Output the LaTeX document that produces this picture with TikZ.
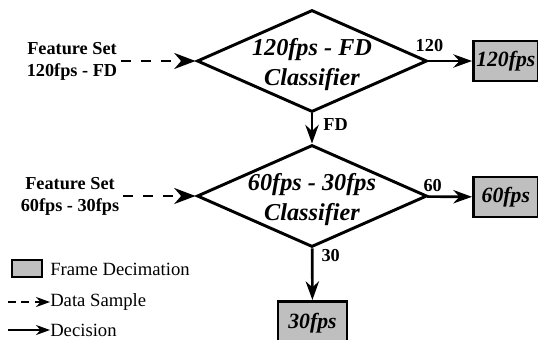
\documentclass[tikz,border=0pt]{standalone}
\usepackage{fontspec}
\setmainfont{Liberation Serif}
\usetikzlibrary{shapes.geometric,arrows.meta,positioning}
\tikzset{
  every node/.style={
    font=\fontsize{13.7}{16.5}\selectfont\bfseries
  },
  classifier/.style={
    shape=diamond,
    draw=black,
    line width=2.2pt,
    aspect=2.25,
    inner sep=-1.5pt,
    minimum width=172.5pt,
    minimum height=76.5pt,
    align=center,
    text height=36pt,
    text depth=0pt,
    font=\fontsize{18.2}{22.5}\selectfont\bfseries\itshape
  },
  decimation/.style={
    shape=rectangle,
    draw=black,
    line width=2pt,
    fill=gray!50,
    minimum width=48.75pt,
    minimum height=30pt,
    inner sep=1pt,
    font=\fontsize{16.3}{19}\selectfont\bfseries\itshape
  },
  feature/.style={
    align=center,
    inner sep=3pt
  },
  datasample/.style={
    line width=2.2pt,
    dash pattern=on 7.5pt off 7.5pt,
    -{Stealth[length=16pt,width=12pt]}
  },
  decision/.style={
    line width=2pt,
    -{Stealth[length=14pt,width=10pt]}
  },
  edgelabel/.style={
    inner sep=0pt
  },
  legendtext/.style={
    font=\fontsize{14}{16}\selectfont,
    inner sep=0pt
  }
}

\begin{document}
\begin{tikzpicture}[x=0.75pt,y=-0.75pt]
  \useasboundingbox (0,0) rectangle (538,339);
  \clip (0,0) rectangle (538,339);
  % classifiers
  \node [classifier] (clf120) at (312,61) {120fps - FD\\Classifier};
  \node [classifier] (clf60) at (312,196) {60fps - 30fps\\Classifier};
  % feature sets
  \node [feature] (feat120) at (72,61) {Feature Set\\120fps - FD};
  \node [feature] (feat60) at (70,196) {Feature Set\\60fps - 30fps};
  % frame decimation
  \node [decimation, anchor=west] (fps120) at (472,61) {120fps};
  \node [decimation, anchor=west] (fps60) at (472,197) {60fps};
  \node [decimation, anchor=north, minimum width=51.75pt, minimum height=32pt] (fps30) at (312.5,300) {30fps};
  % data samples
  \draw [datasample] (feat120) -- (clf120);
  \draw [datasample] (feat60) -- (clf60);
  % decisions
  \draw [decision] (clf120) -- node [edgelabel, pos=0, anchor=south east, xshift=12pt, yshift=6pt] {120} (fps120);
  \draw [decision] (clf120) -- node [edgelabel, pos=0, anchor=north west, xshift=7.5pt, yshift=-2.5pt] {FD} (clf60);
  \draw [decision] (clf60) -- node [edgelabel, pos=0, anchor=south east, xshift=12pt, yshift=3pt] {60} (fps60);
  \draw [decision] (clf60) -- node [edgelabel, pos=0, anchor=north west, xshift=6pt, yshift=0pt] {30} (fps30);
  % legend
  \node [decimation, minimum width=22.5pt, minimum height=12.75pt, line width=1.5pt] (lgbox) at (27,268.5) {};
  \node [legendtext, anchor=west] (lgdecim) at (50,269) {Frame Decimation};
  \node [legendtext, anchor=west] (lgdata) at (50,302) {Data Sample};
  \node [legendtext, anchor=west] (lgdecis) at (50,330) {Decision};
  \coordinate (lgdatastart) at (8,302);
  \coordinate (lgdecisstart) at (8,330);
  \draw [datasample, line width=1.5pt, dash pattern=on 6pt off 4pt, -{Stealth[length=10.5pt,width=7.5pt]}] (lgdatastart) -- (lgdata.west);
  \draw [decision, line width=1.5pt, -{Stealth[length=10.5pt,width=7.5pt]}] (lgdecisstart) -- (lgdecis.west);
\end{tikzpicture}
\end{document}
